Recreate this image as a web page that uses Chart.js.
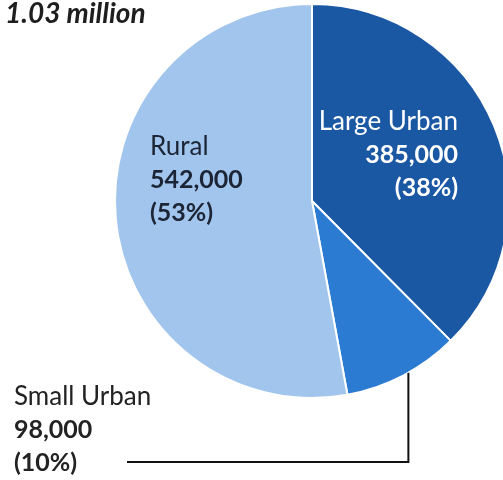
<!DOCTYPE html>
<html>
<head>
<meta charset="utf-8">
<script src="https://cdn.jsdelivr.net/npm/chart.js@4/dist/chart.umd.min.js"></script>
<style>
  html, body { margin: 0; padding: 0; background: #fff; overflow: hidden; }
  #wrap { width: 520px; height: 480px; }
</style>
</head>
<body>
<div id="wrap"><canvas id="pie" width="520" height="480"></canvas></div>
<script>
const totalLabel = "1.03 million";
const categories = ["Large Urban", "Small Urban", "Rural"];
const residents = [385000, 98000, 542000];
const sliceColors = ["#1b58a4", "#2a7bd1", "#a2c5ee"];

const FONT = "Lato, 'Open Sans', sans-serif";

// where each text block sits and how it is aligned
const labelLayout = {
  "Large Urban": { x: 458, y: 130, align: "right", color: "#ffffff" },
  "Rural": { x: 150, y: 155, align: "left", color: "#1b2535" },
  "Small Urban": { x: 14, y: 405, align: "left", color: "#222222", leader: { y: 462, x: 127, along: 0.45 } },
};
const lineGap = 33;

const total = residents.reduce((a, b) => a + b, 0);

const labelPlugin = {
  id: "sliceLabels",
  afterDraw(chart) {
    const { ctx } = chart;
    const arcs = chart.getDatasetMeta(0).data;
    ctx.save();

    // headline total
    ctx.fillStyle = "#1e1e1e";
    ctx.font = "italic 700 28px " + FONT;
    ctx.textAlign = "left";
    ctx.textBaseline = "alphabetic";
    ctx.fillText(totalLabel, 5, 23);

    categories.forEach((name, i) => {
      const pos = labelLayout[name];
      const pct = Math.round((residents[i] / total) * 100);
      ctx.fillStyle = pos.color;
      ctx.textAlign = pos.align;
      ctx.font = "400 26px " + FONT;
      ctx.fillText(name, pos.x, pos.y);
      ctx.font = "700 25px " + FONT;
      ctx.fillText(residents[i].toLocaleString("en-US"), pos.x, pos.y + lineGap);
      ctx.fillText("(" + pct + "%)", pos.x, pos.y + lineGap * 2);

      if (pos.leader) {
        // leader line leaves the slice edge, drops down, then runs left under the label
        const { x, y, startAngle, endAngle, outerRadius } = arcs[i].getProps(
          ["x", "y", "startAngle", "endAngle", "outerRadius"], true);
        const a = startAngle + (endAngle - startAngle) * pos.leader.along;
        const sx = x + Math.cos(a) * outerRadius;
        const sy = y + Math.sin(a) * outerRadius;
        ctx.strokeStyle = "#111111";
        ctx.lineWidth = 2;
        ctx.beginPath();
        ctx.moveTo(sx, sy);
        ctx.lineTo(sx, pos.leader.y);
        ctx.lineTo(pos.leader.x, pos.leader.y);
        ctx.stroke();
      }
    });
    ctx.restore();
  },
};

const ctx = document.getElementById("pie").getContext("2d");
new Chart(ctx, {
  type: "pie",
  data: {
    labels: categories,
    datasets: [
      {
        data: residents,
        backgroundColor: sliceColors,
        borderColor: "#ffffff",
        borderWidth: 2,
      },
    ],
  },
  options: {
    responsive: false,
    animation: false,
    layout: {
      padding: { left: 114, right: 10, top: 3, bottom: 81 },
    },
    plugins: {
      legend: { display: false },
      tooltip: { enabled: false },
      title: { display: false },
    },
  },
  plugins: [labelPlugin],
});
</script>
</body>
</html>
